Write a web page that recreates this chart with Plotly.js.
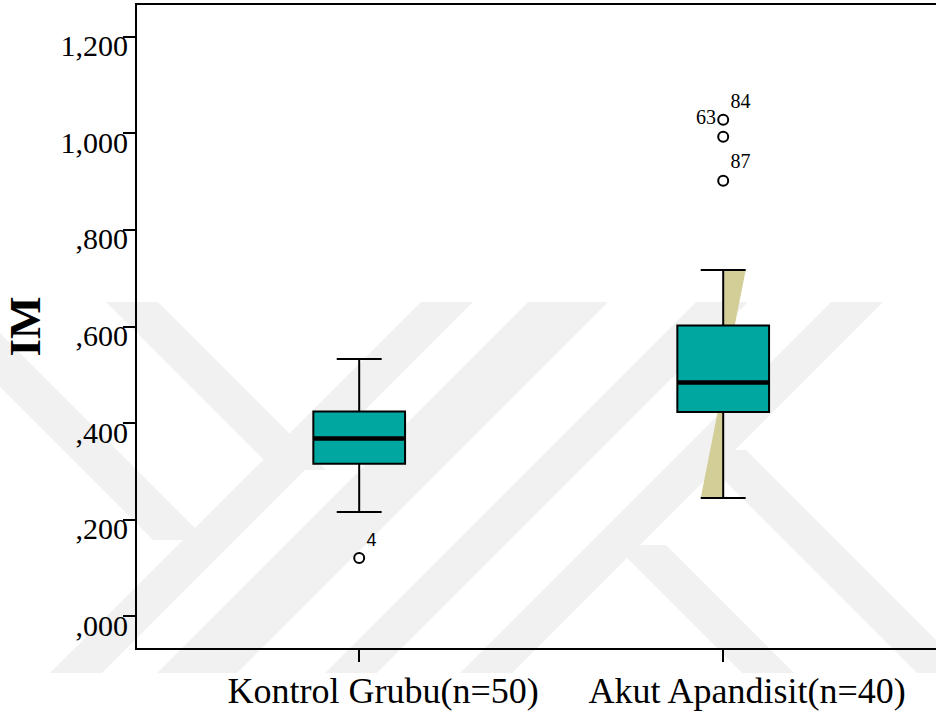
<!DOCTYPE html>
<html><head><meta charset="utf-8">
<script src="https://cdn.plot.ly/plotly-3.0.1.min.js"></script>
<style>html,body{margin:0;padding:0;background:#fff}</style>
</head><body><div id="chart" style="width:936px;height:715px"></div>
<script>
// ---- data ----
const categories = ['Kontrol Grubu(n=50)', 'Akut Apandisit(n=40)'];
const positions = [0, 1];
const q1 = [0.316, 0.423];
const median = [0.368, 0.484];
const q3 = [0.424, 0.602];
const lowerWhisker = [0.216, 0.245];
const upperWhisker = [0.533, 0.717];
const outlierGroup = [0, 1, 1, 1];
const outlierValue = [0.121, 1.028, 0.993, 0.902];
const outlierLabel = ['4', '84', '63', '87'];
const yTickVals = [0, 0.2, 0.4, 0.6, 0.8, 1.0, 1.2];
const yTickText = [',000', ',200', ',400', ',600', ',800', '1,000', '1,200'];
const wedgeGroups = [1];

// ---- style ----
const BOXW = 0.252, CAP = 0.49;
const TEAL = '#00a6a0', TAN = '#d3ce97';
const SERIF = 'Liberation Serif, Times New Roman, serif';

const traces = [];
positions.forEach((p, i) => {
  traces.push({
    type: 'box', x: [p], q1: [q1[i]], median: [median[i]], q3: [q3[i]],
    lowerfence: [lowerWhisker[i]], upperfence: [upperWhisker[i]],
    width: BOXW, whiskerwidth: CAP, boxpoints: false,
    fillcolor: TEAL, line: {color: '#000', width: 2},
    hoverinfo: 'skip', showlegend: false
  });
});
// thick median lines
const mx = [], my = [];
positions.forEach((p, i) => { mx.push(p - BOXW/2, p + BOXW/2, null); my.push(median[i], median[i], null); });
traces.push({type: 'scatter', mode: 'lines', x: mx, y: my, line: {color: '#000', width: 4.5}, hoverinfo: 'skip', showlegend: false});
// outliers
traces.push({
  type: 'scatter', mode: 'markers+text',
  x: outlierGroup.map(g => positions[g]), y: outlierValue, text: outlierLabel,
  textposition: outlierLabel.map(l => l === '63' ? 'top left' : 'top right'),
  textfont: {family: outlierLabel.map(l => l === '4' ? 'Liberation Sans, Arial, sans-serif' : SERIF), size: outlierLabel.map(l => l === '4' ? 18 : 20), color: '#000'},
  marker: {symbol: 'circle-open', size: 10, color: '#000', line: {width: 2, color: '#000'}},
  hoverinfo: 'skip', showlegend: false, cliponaxis: false
});

// ---- watermark (decorative, pixel -> paper) ----
const L = 137, R = 936, T = 5, B = 648;
const px = x => (x - L) / (R - L), py = y => (B - y) / (B - T);
function poly(pts) {
  return {type: 'path', xref: 'paper', yref: 'paper', layer: 'below',
    path: 'M' + pts.map(p => px(p[0]) + ',' + py(p[1])).join(' L') + ' Z',
    fillcolor: '#f1f1f1', line: {width: 0}};
}
function slashBand(ct, hw) { const cb = ct - 371; return poly([[ct-hw,302],[ct+hw,302],[cb+hw,673],[cb-hw,673]]); }
function backBand(y1, c1, y2, hw) { const c2 = c1 + (y2 - y1); return poly([[c1-hw,y1],[c1+hw,y1],[c2+hw,y2],[c2-hw,y2]]); }
const shapes = [
  slashBand(447, 26), slashBand(568, 40), slashBand(722, 26), slashBand(857, 26),
  backBand(302, 132, 470, 26), backBand(330, -30, 540, 27),
  backBand(450, 720, 673, 26), backBand(545, 640, 673, 26)
];
// tan wedge behind whisker
wedgeGroups.forEach(g => {
  const p = positions[g], h = BOXW * CAP / 2;
  shapes.push({type: 'path', xref: 'x', yref: 'y', layer: 'below',
    path: `M${p},${upperWhisker[g]} L${p+h},${upperWhisker[g]} L${p-h},${lowerWhisker[g]} L${p},${lowerWhisker[g]} Z`,
    fillcolor: TAN, line: {width: 0}});
});

const layout = {
  width: 936, height: 715,
  margin: {l: 137, r: 0, t: 5, b: 67},
  paper_bgcolor: '#fff', plot_bgcolor: 'rgba(0,0,0,0)',
  showlegend: false,
  shapes: shapes,
  xaxis: {
    range: [-0.6104, 1.5846], tickvals: positions, ticktext: categories,
    ticks: 'outside', ticklen: 12, tickwidth: 2, tickcolor: '#000',
    showline: true, linewidth: 2, linecolor: '#000', mirror: true,
    showgrid: false, zeroline: false, ticklabelstandoff: -2, ticklabelshift: 24,
    tickfont: {family: SERIF, size: 36, color: '#000'}
  },
  yaxis: {
    range: [-0.0655, 1.2657], tickvals: yTickVals, ticktext: yTickText,
    ticks: 'outside', ticklen: 12, tickwidth: 2, tickcolor: '#000',
    showline: true, linewidth: 2, linecolor: '#000',
    showgrid: false, zeroline: false, ticklabelshift: 9, ticklabelstandoff: -11,
    tickfont: {family: SERIF, size: 30, color: '#000'},
    title: {text: '<b>IM</b>', font: {family: SERIF, size: 45, color: '#000'}, standoff: 10}
  }
};
Plotly.newPlot('chart', traces, layout, {displayModeBar: false, staticPlot: true});
</script></body></html>
